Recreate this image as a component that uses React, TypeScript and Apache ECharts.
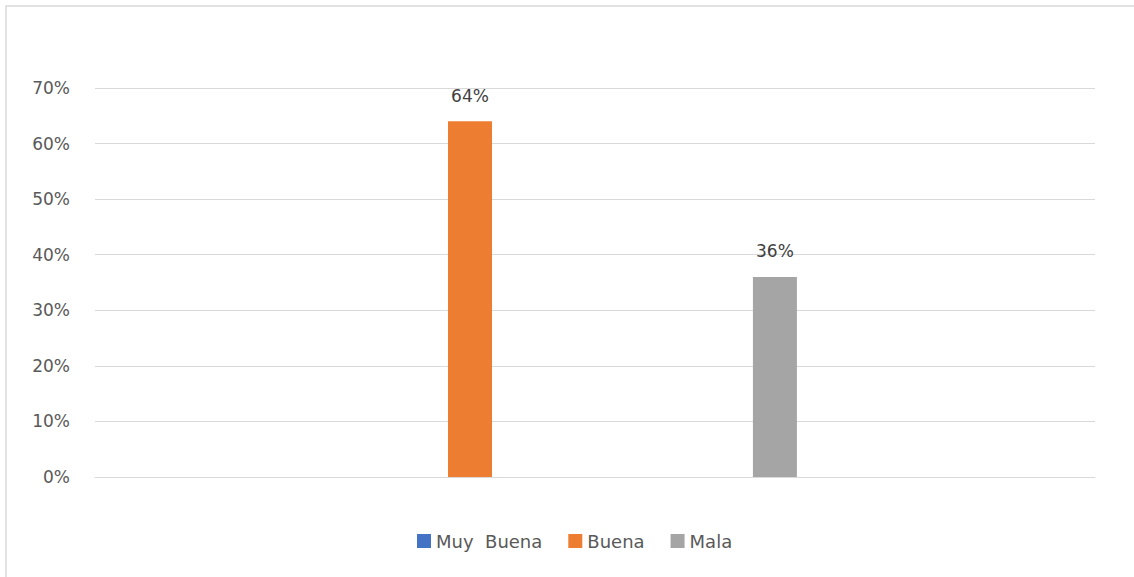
import React, { useEffect, useRef } from "react";
import * as echarts from "echarts";

const categories = [""];
const seriesNames = ["Muy  Buena", "Buena", "Mala"];
const muyBuena = [0];
const buena = [64];
const mala = [36];
const seriesColors = ["#4472C4", "#ED7D31", "#A5A5A5"];
const yTicks = { min: 0, max: 70, interval: 10 };

const FONT = "DejaVu Sans";

export default function App() {
  const ref = useRef<HTMLDivElement>(null);
  useEffect(() => {
    document.body.style.margin = "0";
    const chart = echarts.init(ref.current!, null, { renderer: "svg" });
    const values = [muyBuena, buena, mala];
    const label = {
      show: true,
      position: "top",
      distance: 17,
      color: "#404040",
      fontFamily: FONT,
      fontSize: 17,
      formatter: (p: any) => `${p.value}%`,
    };
    chart.setOption({
      animation: false,
      backgroundColor: "#ffffff",
      graphic: [
        {
          type: "rect",
          shape: { x: 6, y: 6, width: 1200, height: 700 },
          style: { fill: "none", stroke: "#d9d9d9", lineWidth: 1.5 },
          silent: true,
        },
      ],
      legend: {
        bottom: 22,
        left: 412,
        itemWidth: 14,
        itemHeight: 14,
        itemGap: 26,
        icon: "rect",
        textStyle: { color: "#595959", fontFamily: FONT, fontSize: 18 },
        data: seriesNames,
      },
      grid: [
        { left: 95, right: 39, top: 88, bottom: 100 },
        { left: 95, right: 289, top: 88, bottom: 100 },
      ],
      xAxis: [
        {
          type: "category",
          gridIndex: 0,
          data: categories,
          axisLine: { show: true, lineStyle: { color: "#d9d9d9", width: 1 } },
          axisTick: { show: false },
          axisLabel: { show: false },
        },
        {
          type: "category",
          gridIndex: 1,
          data: categories,
          show: false,
        },
      ],
      yAxis: [
        {
          type: "value",
          gridIndex: 0,
          ...yTicks,
          axisLine: { show: false },
          axisTick: { show: false },
          splitLine: { lineStyle: { color: "#d9d9d9", width: 1 } },
          axisLabel: {
            color: "#595959",
            fontFamily: FONT,
            fontSize: 17,
            margin: 25,
            formatter: (v: number) => `${v}%`,
          },
        },
        {
          type: "value",
          gridIndex: 1,
          ...yTicks,
          show: false,
          splitLine: { show: false },
        },
      ],
      series: seriesNames.map((name, i) => ({
        name,
        type: "bar",
        xAxisIndex: 1,
        yAxisIndex: 1,
        data: values[i],
        barWidth: 44,
        barGap: "593%",
        itemStyle: { color: seriesColors[i] },
        label: i === 0 ? { show: false } : label,
      })),
    });
    return () => chart.dispose();
  }, []);
  return <div ref={ref} style={{ width: 1134, height: 577 }} />;
}
